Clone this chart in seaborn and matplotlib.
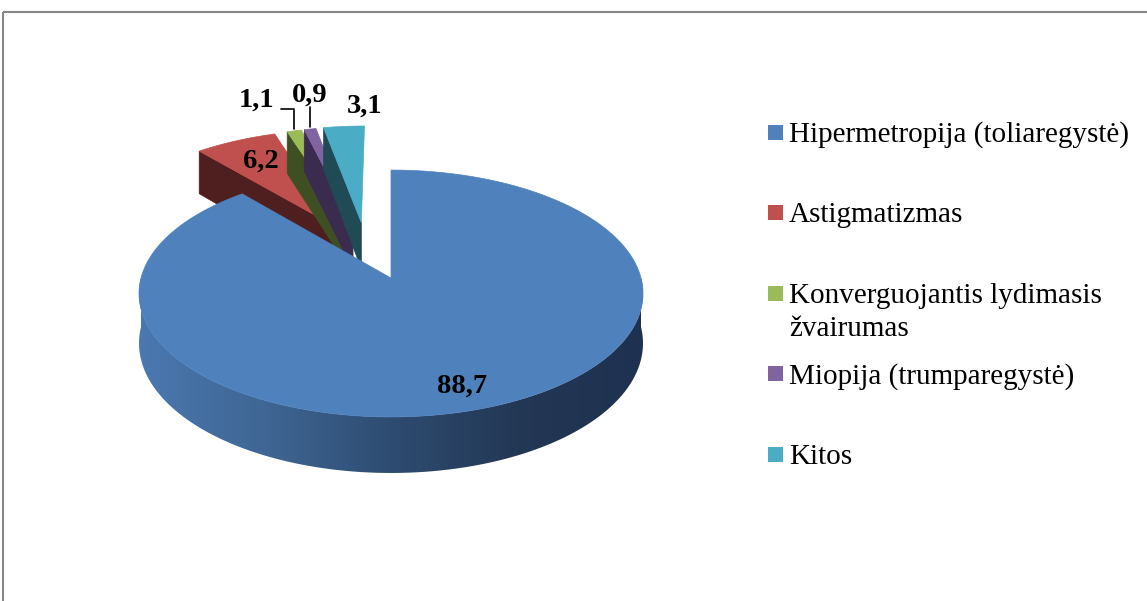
import numpy as np
import matplotlib.pyplot as plt
import seaborn as sns
from matplotlib.patches import Polygon, Rectangle

# data
categories = ["Hipermetropija (toliaregystė)", "Astigmatizmas",
              "Konverguojantis lydimasis\nžvairumas", "Miopija (trumparegystė)", "Kitos"]
values = [88.7, 6.2, 1.1, 0.9, 3.1]
value_labels = ["88,7", "6,2", "1,1", "0,9", "3,1"]

# style
top_colors = ["#4F81BD", "#C0504D", "#9BBB59", "#8064A2", "#4BACC6"]
face_colors = ["#2B4870", "#4F1E1E", "#3F4F24", "#3A2B4F", "#1F4A56"]
explode = [0.0, 0.5, 0.5, 0.5, 0.5]
explode_turn = [0.0, -2.0, 4.0, 6.0, 9.0]

# projection of the tilted pie (pixel coords)
CX, CY = 391, 278
A, B, P = 250, 121.5, 0.1255
H = 49

sns.set_theme(style="white")
fig = plt.figure(figsize=(11.47, 6.01), dpi=100)
ax = fig.add_axes([0, 0, 1, 1])
ax.set_xlim(0, 1147)
ax.set_ylim(601, 0)
ax.axis("off")


def project(X, Y, down=0.0):
    X = np.asarray(X, dtype=float)
    Y = np.asarray(Y, dtype=float)
    w = 1.0 / (1.0 + P * Y)
    return CX + A * X * w, CY - B * Y * w + down * w


# slice angles, clockwise from 12 o'clock
spans = []
start = 90.0
for v in values:
    sweep = 360.0 * v / sum(values)
    spans.append((start - sweep, start))
    start -= sweep

offsets = []
for (t1, t2), e, turn in zip(spans, explode, explode_turn):
    mid = np.radians((t1 + t2) / 2 + turn)
    offsets.append((e * np.cos(mid), e * np.sin(mid)))

# small exploded slices, left to right
for i in [1, 2, 3, 4]:
    t1, t2 = spans[i]
    ox, oy = offsets[i]
    # visible cut face on the left edge
    te = np.radians(t2)
    fx = [ox, ox + np.cos(te), ox + np.cos(te), ox]
    fy = [oy, oy + np.sin(te), oy + np.sin(te), oy]
    px, py = project(fx, fy, np.array([0, 0, H, H]))
    ax.add_patch(Polygon(np.column_stack([px, py]), closed=True,
                         facecolor=face_colors[i], edgecolor=face_colors[i], lw=0.5))
    t = np.radians(np.linspace(t1, t2, 40))
    xs = np.concatenate([[ox], ox + np.cos(t)])
    ys = np.concatenate([[oy], oy + np.sin(t)])
    px, py = project(xs, ys)
    ax.add_patch(Polygon(np.column_stack([px, py]), closed=True,
                         facecolor=top_colors[i], edgecolor=top_colors[i], lw=0.5))

# big slice: front side with a horizontal gradient, then the top
ox, oy = offsets[0]
ts = np.radians(np.linspace(-180, 0, 240))
xs = np.concatenate([ox + np.cos(ts), ox + np.cos(ts[::-1])])
ys = np.concatenate([oy + np.sin(ts), oy + np.sin(ts[::-1])])
downs = np.concatenate([np.zeros(len(ts)), np.full(len(ts), H)])
px, py = project(xs, ys, downs)
side = Polygon(np.column_stack([px, py]), closed=True, facecolor="none", edgecolor="none")
ax.add_patch(side)
side_pal = sns.blend_palette(["#4A78B0", "#3F6694", "#2E4C71", "#233855", "#1F3150"], 256)
grad = np.array(side_pal)[np.newaxis, :, :]
img = ax.imshow(grad, extent=(px.min(), px.max(), py.max(), py.min()),
                aspect="auto", interpolation="bilinear", zorder=1)
img.set_clip_path(side)

t1, t2 = spans[0]
t = np.radians(np.linspace(t1, t2, 300))
xs = np.concatenate([[ox], ox + np.cos(t)])
ys = np.concatenate([[oy], oy + np.sin(t)])
px, py = project(xs, ys)
ax.add_patch(Polygon(np.column_stack([px, py]), closed=True, zorder=2,
                     facecolor=top_colors[0], edgecolor=top_colors[0], lw=0.5))
ax.set_xlim(0, 1147)
ax.set_ylim(601, 0)

# value labels
label_font = dict(family="Liberation Serif", fontsize=20.5, fontweight="bold", color="black")
label_pos = [(462, 393), (261, 168), (257, 107), (310, 102), (365, 113)]
for lab, (lx, ly) in zip(value_labels, label_pos):
    ax.text(lx, ly, lab, ha="center", va="baseline", zorder=5, **label_font)

# leader lines for the two thinnest slices
for i, (lx, ly) in [(2, (281, 109)), (3, (310, 107))]:
    t1, t2 = spans[i]
    ox, oy = offsets[i]
    tm = np.radians((t1 + t2) / 2)
    mx, my = project(ox + np.cos(tm), oy + np.sin(tm))
    ax.plot([lx, mx, mx], [ly, ly, my - 2], color="black", lw=1.2, zorder=5)

# legend
leg_font = dict(family="Liberation Serif", fontsize=21, color="black")
for i, (cat, col) in enumerate(zip(categories, top_colors)):
    yc = 132 + i * 80.5
    ax.add_patch(Rectangle((768, yc - 7.5), 15, 15, facecolor=col, edgecolor="none"))
    for j, line in enumerate(cat.split("\n")):
        ax.text(789, yc + 10 + j * 33, line, ha="left", va="baseline", **leg_font)

# chart border
ax.add_patch(Rectangle((3, 12), 1300, 800, fill=False, edgecolor="#868686", lw=1.5))

plt.savefig("out.png", dpi=100)
plt.close()
